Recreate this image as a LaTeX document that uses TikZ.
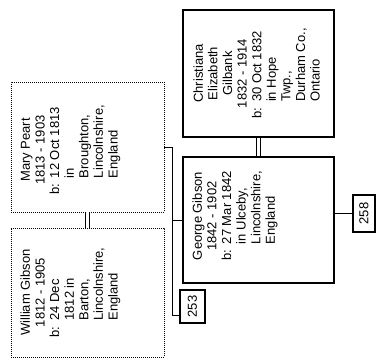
\documentclass[tikz,border=0pt]{standalone}
\usepackage{fontspec}
\setmainfont{Liberation Sans}
\begin{document}
\begin{tikzpicture}[x=1pt,y=1pt,
  person/.style={draw, line width=1.1pt, inner sep=0pt},
  dotbox/.style={draw, line width=0.9pt, dash pattern=on 0.9pt off 1.1pt, inner sep=0pt},
  info/.style={rotate=90, anchor=north, inner sep=0pt, font=\fontsize{13}{14.6}\selectfont},
  numbox/.style={draw, line width=1.1pt, inner sep=0pt, font=\fontsize{13}{14.6}\selectfont},
  link/.style={line width=1pt},
  marriage/.style={line width=0.8pt, double, double distance=3pt}]
\fill[white] (0,0) rectangle (377,360);
\useasboundingbox (0,0) rectangle (377,360);
\renewcommand\arraystretch{1}
% boxes
\node[dotbox, minimum width=153pt, minimum height=130pt] (mary) at (87.5,213) {};
\node[dotbox, minimum width=153pt, minimum height=129pt] (william) at (87.5,67.5) {};
\node[person, minimum width=151pt, minimum height=127pt] (christiana) at (258.5,286.5) {};
\node[person, minimum width=151pt, minimum height=126pt] (george) at (258.5,140) {};
% texts
\node[info] (tmary) at ([xshift=9pt,yshift=-3pt]mary.west) {\begin{tabular}{@{}l@{\hspace{6pt}}l@{}}
\multicolumn{2}{@{}c@{}}{Mary Peart}\\
\multicolumn{2}{@{}c@{}}{1813 - 1903}\\
b: & 12 Oct 1813\\
 & in\\
 & Broughton,\\
 & Lincolnshire,\\
 & England\end{tabular}};
\node[info] (twilliam) at ([xshift=9pt]william.west) {\begin{tabular}{@{}l@{\hspace{6pt}}l@{}}
\multicolumn{2}{@{}c@{}}{William Gibson}\\
\multicolumn{2}{@{}c@{}}{1812 - 1905}\\
b: & 24 Dec\\
 & 1812 in\\
 & Barton,\\
 & Lincolnshire,\\
 & England\end{tabular}};
\node[info] (tchristiana) at ([xshift=10pt]christiana.west) {\begin{tabular}{@{}l@{\hspace{6pt}}l@{}}
\multicolumn{2}{@{}c@{}}{Christiana}\\
\multicolumn{2}{@{}c@{}}{Elizabeth}\\
\multicolumn{2}{@{}c@{}}{Gilbank}\\
\multicolumn{2}{@{}c@{}}{1832 - 1914}\\
b: & 30 Oct 1832\\
 & in Hope\\
 & Twp.,\\
 & Durham Co.,\\
 & Ontario\end{tabular}};
\node[info] (tgeorge) at ([xshift=9pt,yshift=4pt]george.west) {\begin{tabular}{@{}l@{\hspace{6pt}}l@{}}
\multicolumn{2}{@{}c@{}}{George Gibson}\\
\multicolumn{2}{@{}c@{}}{1842 - 1902}\\
b: & 27 Mar 1842\\
 & in Ulceby,\\
 & Lincolnshire,\\
 & England\end{tabular}};
% number boxes
\node[numbox, minimum width=25pt, minimum height=33pt] (n253) at (192.5,53.5) {\rotatebox{90}{253}};
\node[numbox, minimum width=22pt, minimum height=37pt] (n258) at (364,146.5) {\rotatebox{90}{258}};
% connectors
\draw[marriage] (mary.south) -- (william.north);
\draw[marriage] (christiana.south) -- (george.north);
\coordinate (vtop) at (172,213);
\coordinate (vmid) at (172,140);
\coordinate (vbot) at (172,45);
\draw[link] (mary.east) -- (vtop) -- (vbot) -- (vbot -| n253.west);
\draw[link] (vmid) -- (george.west);
\draw[link] (george.east |- n258.west) -- (n258.west);
\end{tikzpicture}
\end{document}
